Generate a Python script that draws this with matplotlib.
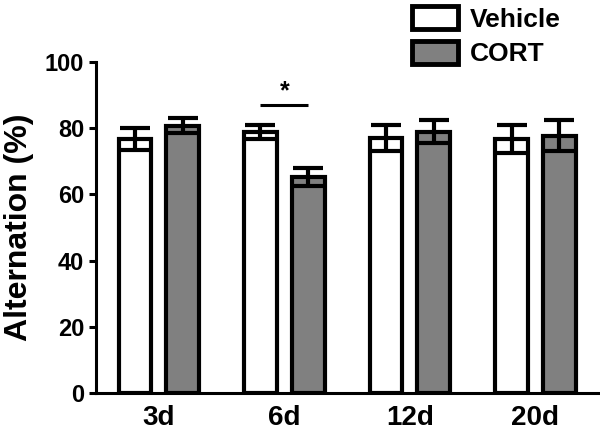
import numpy as np
import matplotlib
matplotlib.use("Agg")
import matplotlib.pyplot as plt
from matplotlib.patches import Patch

plt.rcParams["font.family"] = ["Liberation Sans", "DejaVu Sans"]
plt.rcParams["font.weight"] = "bold"

days = ["3d", "6d", "12d", "20d"]
vehicle = [76.8, 78.9, 77.1, 76.8]
vehicle_err = [3.4, 2.0, 4.0, 4.3]
cort = [80.8, 65.2, 79.0, 77.8]
cort_err = [2.2, 2.7, 3.5, 4.6]


def main():
    fig = plt.figure(figsize=(6.0, 4.34), dpi=100)
    ax = fig.add_axes([0.16, 0.0945, 0.837, 0.7625])
    x = np.arange(len(days))
    w = 0.26
    off = 0.19
    ekw = dict(ecolor="black", elinewidth=3, capsize=11, capthick=3)
    ax.bar(x - off, vehicle, w, color="white", edgecolor="black", linewidth=3,
           yerr=vehicle_err, error_kw=ekw)
    ax.bar(x + off, cort, w, color="#808080", edgecolor="black", linewidth=3,
           yerr=cort_err, error_kw=ekw)

    # significance marker at 6d
    ax.plot([1 - off, 1 + off], [86.9, 86.9], color="black", lw=2.2, solid_capstyle="butt")
    ax.text(1, 87.5, "*", ha="center", va="bottom", fontsize=18, fontweight="bold")

    ax.set_xlim(-0.5, 3.5)
    ax.set_ylim(0, 100)
    ax.set_yticks([0, 20, 40, 60, 80, 100])
    ax.set_xticks(x)
    ax.set_xticklabels(days, fontsize=20, fontweight="bold")
    ax.tick_params(axis="x", length=0, pad=9)
    ax.tick_params(axis="y", labelsize=17, width=2.2, length=5, direction="out")
    for lab in ax.get_yticklabels():
        lab.set_fontweight("bold")
    ax.set_ylabel("Alternation (%)", fontsize=23, fontweight="bold", labelpad=8)
    ax.spines["top"].set_visible(False)
    ax.spines["right"].set_visible(False)
    ax.spines["left"].set_linewidth(2.2)
    ax.spines["bottom"].set_linewidth(2.2)

    handles = [Patch(facecolor="white", edgecolor="black", linewidth=3.5, label="Vehicle"),
               Patch(facecolor="#808080", edgecolor="black", linewidth=3.5, label="CORT")]
    fig.legend(handles=handles, loc="upper left", bbox_to_anchor=(399 / 600, 1 + 7 / 434),
               frameon=False, prop=dict(size=19, weight="bold"), borderpad=0,
               handlelength=1.75, handleheight=0.95, handletextpad=0.45, labelspacing=0.35)

    fig.savefig("out.png", dpi=100)


if __name__ == "__main__":
    main()
